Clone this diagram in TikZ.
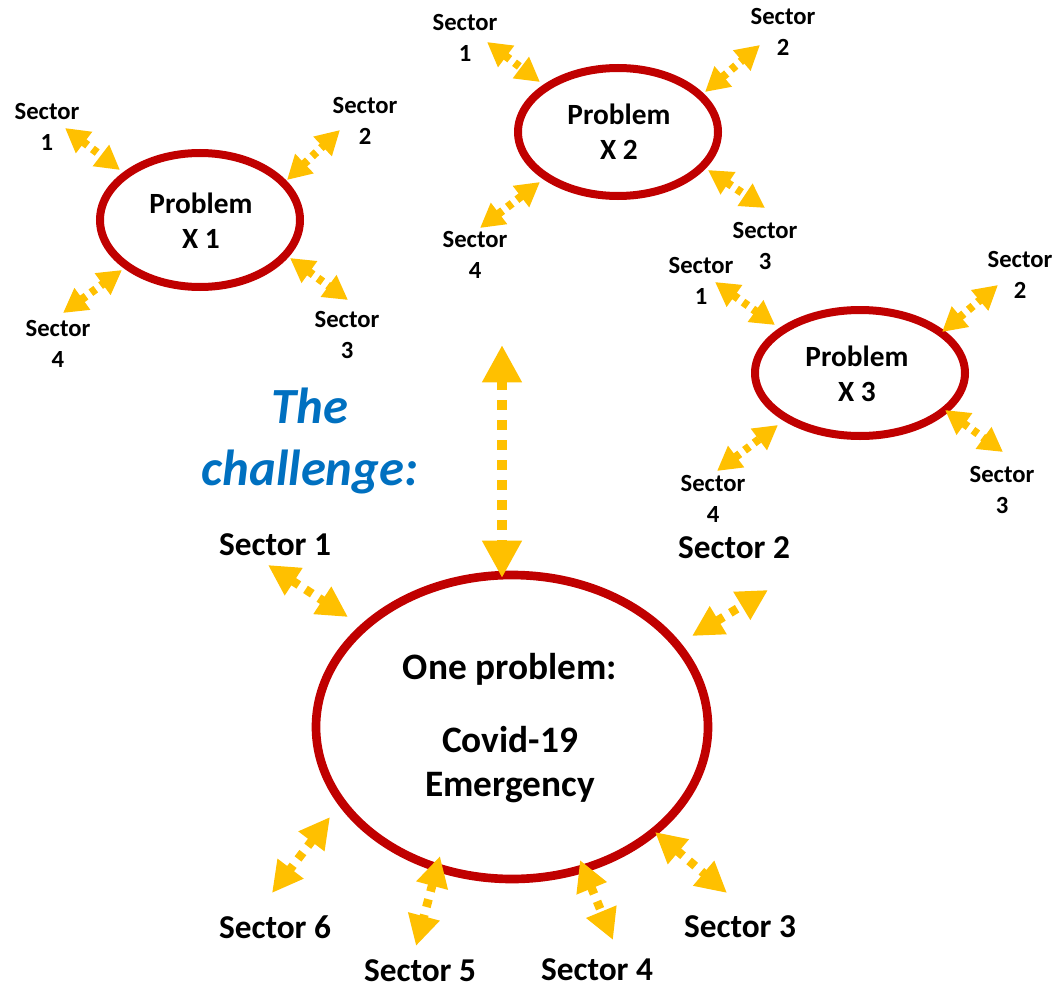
\documentclass[tikz,border=0pt]{standalone}
\usepackage{fontspec}
\setmainfont{Carlito}
\usetikzlibrary{arrows.meta,shapes.geometric}
\definecolor{ered}{RGB}{192,0,0}
\definecolor{ayel}{RGB}{255,192,0}
\definecolor{cblue}{RGB}{0,112,192}
\tikzset{
  smalllab/.style={font=\bfseries\fontsize{18.5}{23}\selectfont,align=center,inner sep=0pt},
  biglab/.style={font=\bfseries\fontsize{25}{30}\selectfont,inner sep=0pt},
  ptext/.style={font=\bfseries\fontsize{22}{26}\selectfont,align=center,inner sep=0pt},
  sarr/.style={draw=ayel,line width=6pt,dash pattern=on 4.5pt off 4.5pt,
     {Triangle[length=18pt,width=19pt]}-{Triangle[length=18pt,width=19pt]}},
  barr/.style={draw=ayel,line width=6.5pt,dash pattern=on 6pt off 6pt,
     {Triangle[length=23pt,width=23pt]}-{Triangle[length=23pt,width=23pt]}},
  varr/.style={draw=ayel,line width=7.5pt,dash pattern=on 7.5pt off 7.5pt,
     {Triangle[length=28pt,width=28pt]}-{Triangle[length=28pt,width=28pt]}},
}
\begin{document}
\begin{tikzpicture}[x=0.75pt,y=-0.75pt]
\useasboundingbox (0,0) rectangle (1056,988);
% ellipses
\draw[ered,line width=6pt] (200,220) ellipse [x radius=100, y radius=67];
\draw[ered,line width=6pt] (618,132) ellipse [x radius=100, y radius=64];
\draw[ered,line width=6pt] (860,373) ellipse [x radius=105, y radius=63];
\draw[ered,line width=6.5pt] (512,727) ellipse [x radius=196, y radius=152];
% problem texts
\node[ptext] (t1) at (201,221) {Problem\\X 1};
\node[ptext] (t2) at (619,132) {Problem\\X 2};
\node[ptext] (t3) at (857,374) {Problem\\X 3};
\node[font=\bfseries\fontsize{28}{33}\selectfont,inner sep=0pt] (one) at (510,669) {One problem:};
\node[font=\bfseries\fontsize{28}{33}\selectfont,align=center,inner sep=0pt] (cov) at (510,765) {Covid-19\\Emergency};
\node[font=\bfseries\itshape\fontsize{38}{46}\selectfont,text=cblue,align=center,inner sep=0pt] (chal) at (310,441) {The\\challenge:};
% small labels P1
\node[smalllab] (a1) at (47,127) {Sector\\1};
\node[smalllab] (a2) at (365,121) {Sector\\2};
\node[smalllab] (a3) at (347,335) {Sector\\3};
\node[smalllab] (a4) at (58,344) {Sector\\4};
% P2
\node[smalllab] (b1) at (465,38) {Sector\\1};
\node[smalllab] (b2) at (783,32) {Sector\\2};
\node[smalllab] (b3) at (765,246) {Sector\\3};
\node[smalllab] (b4) at (475,255) {Sector\\4};
% P3
\node[smalllab] (c1) at (701,281) {Sector\\1};
\node[smalllab] (c2) at (1020,275) {Sector\\2};
\node[smalllab] (c3) at (1002,490) {Sector\\3};
\node[smalllab] (c4) at (713,499) {Sector\\4};
% big labels
\node[biglab] (s1) at (275,545) {Sector 1};
\node[biglab] (s2) at (734,548) {Sector 2};
\node[biglab] (s3) at (740,927) {Sector 3};
\node[biglab] (s4) at (597,970) {Sector 4};
\node[biglab] (s5) at (420,971) {Sector 5};
\node[biglab] (s6) at (275,927) {Sector 6};
% arrows P1
\draw[sarr] (65,128) -- (120,170);
\draw[sarr] (287,180) -- (340,130);
\draw[sarr] (290,258) -- (348,300);
\draw[sarr] (63,313) -- (122,270);
% P2
\draw[sarr] (487,42) -- (540,82);
\draw[sarr] (705,92) -- (760,45);
\draw[sarr] (708,170) -- (765,208);
\draw[sarr] (480,228) -- (540,182);
% P3
\draw[sarr] (715,282) -- (775,325);
\draw[sarr] (942,332) -- (998,285);
\draw[sarr] (945,410) -- (1003,452);
\draw[sarr] (717,471) -- (778,425);
% big arrows
\draw[barr] (268,565) -- (348,617);
\draw[barr] (692,636) -- (768,590);
\draw[barr] (655,832) -- (727,893);
\draw[barr] (580,860) -- (613,940);
\draw[barr] (440,856) -- (416,946);
\draw[barr] (330,817) -- (272,893);
\draw[varr] (502,345) -- (502,578);
\end{tikzpicture}
\end{document}
